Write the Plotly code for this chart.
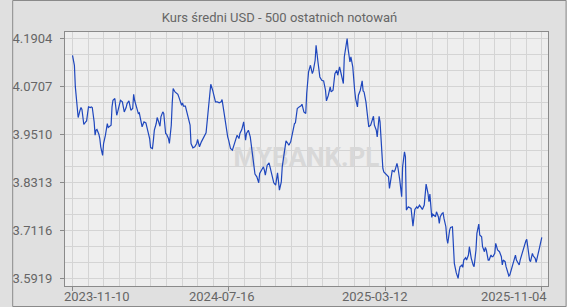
import plotly.graph_objects as go

# observation number (0 = 2023-11-10, 499 = 2025-11-04)
obs = [0,2,3,5,6,8,9,10,11,12,14,15,16,17,19,20,21,23,24,25,26,28,29,30,32,33,35,36,37,38,
       39,41,42,43,45,46,47,48,50,51,53,54,55,57,58,60,61,62,64,65,66,68,69,70,71,73,74,75,76,78,
       79,80,82,83,85,86,87,89,90,91,93,94,96,97,98,99,100,102,103,105,106,107,109,110,112,113,114,116,117,118,
       120,121,123,
       125,126,128,130,132,133,135,137,139,140,142,144,146,147,149,151,152,154,156,158,
       159,161,163,165,166,168,170,172,173,175,177,178,180,182,183,184,185,187,189,191,
       192,194,196,198,199,201,203,204,205,207,209,210,212,214,216,217,218,220,222,223,
       225,227,229,230,232,234,236,237,239,241,243,244,246,248,
       249,251,253,255,256,258,259,261,262,263,265,267,269,270,272,274,275,277,279,281,
       282,284,286,288,289,291,292,293,295,296,298,300,301,303,304,306,308,309,310,312,
       314,315,317,319,320,321,323,324,326,327,328,330,331,333,334,336,337,339,340,342,
       343,345,346,348,350,351,353,354,355,357,359,360,362,363,364,366,367,369,371,372,
       374,376,378,379,380,382,383,384,386,387,389,390,391,393,394,395,397,398,399,401,
       402,404,405,406,408,410,411,412,414,415,416,418,419,421,422,423,424,426,427,429,
       430,432,433,435,436,438,439,440,442,443,445,446,447,449,450,452,453,454,456,457,
       458,460,461,463,464,465,467,468,469,471,472,474,475,476,478,479,481,482,483,485,
       486,487,489,490,492,493,494,496,499]

usd = [4.1488,4.1238,4.0698,4.0199,3.9933,4.0116,4.0183,4.0133,3.9933,3.9759,
       3.9825,3.9850,4.0033,4.0199,4.0183,4.0199,4.0183,3.9825,3.9493,3.9617,
       3.9634,3.9518,3.9409,3.9202,3.8986,3.9285,3.9493,3.9659,3.9784,3.9684,
       3.9700,3.9742,4.0199,4.0365,4.0407,4.0158,3.9991,4.0074,4.0241,4.0365,
       4.0324,4.0199,4.0074,4.0183,4.0282,4.0349,4.0199,4.0116,4.0158,4.0515,
       4.0365,4.0183,4.0091,4.0033,4.0050,3.9825,3.9700,3.9767,3.9825,3.9800,
       3.9700,3.9601,3.9409,3.9185,3.9160,3.9368,3.9617,3.9784,3.9933,3.9867,
       3.9717,3.9950,4.0074,4.0033,3.9784,3.9534,3.9518,3.9409,3.9285,3.9742,
       4.0282,4.0656,4.0573,4.0548,4.0515,4.0449,4.0365,4.0241,4.0299,4.0216,
       4.0216,4.0116,3.9908,
       3.9742,3.9285,3.9177,3.9202,3.9285,3.9385,3.9202,3.9326,3.9409,3.9468,
       3.9551,4.0033,4.0448,4.0764,4.0615,4.0407,4.0324,4.0324,4.0299,4.0324,
       4.0382,4.0074,3.9700,3.9451,3.9368,3.9160,3.9119,3.9268,3.9285,3.9493,
       3.9409,3.9534,3.9634,3.9825,3.9617,3.9368,3.9534,3.9617,3.9451,3.9119,
       3.8828,3.8520,3.8454,3.8304,3.8537,3.8620,3.8703,3.8620,3.8495,3.8744,
       3.8803,3.8703,3.8454,3.8304,3.8246,3.8454,3.8553,3.8121,3.8329,3.8703,
       3.9035,3.9351,3.9285,3.9243,3.9326,3.9534,3.9784,3.9800,4.0158,4.0199,
       4.0224,4.0266,4.0074,4.0033,
       4.0532,4.1072,4.1238,4.1030,4.1097,4.1363,4.1737,4.1321,4.1030,4.0947,
       4.0864,4.0848,4.0615,4.0349,4.0490,4.0698,4.0573,4.0615,4.1030,4.1113,
       4.0989,4.1197,4.0989,4.0781,4.1446,4.1737,4.1904,4.1654,4.1321,4.1446,
       4.1197,4.0615,4.0407,4.0199,4.0490,4.0615,4.0848,4.0598,4.0573,4.0324,
       3.9991,3.9700,3.9742,3.9908,3.9966,3.9742,3.9617,3.9451,3.9966,3.9825,
       3.9368,3.8661,3.8578,3.8520,3.8512,3.8454,3.8163,3.8578,3.8620,3.8578,
       3.8620,3.8786,3.8686,3.8370,3.7955,3.8703,3.9077,3.8952,3.7622,3.7705,
       3.7689,3.7664,3.7223,3.7456,3.7639,3.7705,3.7664,3.7747,3.7664,3.7639,
       3.7747,3.8271,3.8038,3.7830,3.8021,3.7439,3.7522,3.7498,3.7456,3.7581,
       3.7456,3.7290,3.7456,3.7539,3.7556,3.7414,3.7207,3.6916,3.6791,3.7124,
       3.7190,3.7207,3.6791,3.6292,3.6060,3.5919,3.6084,3.6209,3.6251,3.6192,
       3.6375,3.6433,3.6375,3.6500,3.6708,3.6558,3.6417,3.6251,3.6209,3.6625,
       3.7040,3.7273,3.6999,3.6957,3.6708,3.6583,3.6691,3.6625,3.6375,3.6375,
       3.6500,3.6458,3.6458,3.6541,3.6791,3.6625,3.6608,3.6583,3.6458,3.6251,
       3.6375,3.6334,3.6209,3.6043,3.5976,3.6001,3.6168,3.6251,3.6267,3.6500,
       3.6375,3.6292,3.6251,3.6375,3.6541,3.6641,3.6749,3.6849,3.6891,3.6458,
       3.6375,3.6334,3.6541,3.6475,3.6417,3.6317,3.6442,3.6625,3.6941]

x_tick_pos = [0, 499/3, 998/3, 499]
x_tick_labels = ["2023-11-10", "2024-07-16", "2025-03-12", "2025-11-04"]
y_tick_vals = [3.5919, 3.7116, 3.8313, 3.9510, 4.0707, 4.1904]
y_tick_labels = ["3.5919", "3.7116", "3.8313", "3.9510", "4.0707", "4.1904"]

title = "Kurs średni USD - 500 ostatnich notowań"
watermark = "MYBANK.PL"

# label placement offsets (pixels) relative to the tick marks, as in the original
x_label_shift = [24, -7, -10, -28]

W, H = 567, 307
ML, MR, MT, MB = 54, 19, 32, 21
FONT = "Roboto, Arial, sans-serif"
TXT = "#666666"
GRID = "#d4d4d4"
AX = "#8a8a8a"

x_range = [-8.0, 505.6]
y_range = [3.5727, 4.2069]

fig = go.Figure()
fig.add_trace(go.Scatter(
    x=[(x_range[0] + x_range[1]) / 2], y=[(y_range[0] + y_range[1]) / 2],
    mode="text", text=["<b>" + watermark + "</b>"],
    textfont=dict(family=FONT, size=26, color="#d8d8d8"),
    hoverinfo="skip", showlegend=False))
fig.add_trace(go.Scatter(
    x=obs, y=usd, mode="lines",
    line=dict(color="#1f47bd", width=1.2),
    showlegend=False))

for pos, lab, sh in zip(x_tick_pos, x_tick_labels, x_label_shift):
    fig.add_annotation(x=pos, y=0, xref="x", yref="paper", text=lab, showarrow=False,
                       xanchor="center", yanchor="middle", xshift=sh, yshift=-10,
                       font=dict(family=FONT, size=13, color=TXT))

pw = W - ML - MR
ph = H - MT - MB
fig.add_shape(type="rect", xref="paper", yref="paper",
              x0=-(ML - 0.5) / pw, x1=1 + (MR - 0.5) / pw,
              y0=-(MB - 0.5) / ph, y1=1 + (MT - 0.5) / ph,
              line=dict(color=AX, width=1), layer="above")

fig.update_layout(
    width=W, height=H,
    margin=dict(l=ML, r=MR, t=MT, b=MB, pad=0),
    paper_bgcolor="#e0e0e0",
    plot_bgcolor="#eeeeee",
    font=dict(family=FONT, size=13, color=TXT),
    title=dict(text=title, x=0.493, xref="container", xanchor="center",
               y=1 - 17.5 / H, yref="container", yanchor="middle",
               font=dict(family=FONT, size=13, color=TXT)),
    showlegend=False,
    xaxis=dict(range=x_range, tickmode="array", tickvals=x_tick_pos,
               ticktext=["" for _ in x_tick_labels],
               showgrid=True, gridcolor=GRID, gridwidth=1,
               minor=dict(tickmode="linear", tick0=0, dtick=499 / 30, showgrid=True,
                          gridcolor=GRID, gridwidth=1, ticklen=0),
               ticks="outside", ticklen=4, tickcolor=AX,
               showline=True, linecolor=AX, linewidth=1, mirror=True,
               zeroline=False, fixedrange=True),
    yaxis=dict(range=y_range, tickmode="array", tickvals=y_tick_vals, ticktext=y_tick_labels,
               showgrid=True, gridcolor=GRID, gridwidth=1,
               minor=dict(tickmode="linear", tick0=3.5919, dtick=0.0399, showgrid=True,
                          gridcolor=GRID, gridwidth=1, ticklen=0),
               ticks="outside", ticklen=4, tickcolor=AX,
               showline=True, linecolor=AX, linewidth=1, mirror=True,
               zeroline=False, fixedrange=True, ticklabelstandoff=5,
               tickfont=dict(family=FONT, size=13, color=TXT)),
)

fig.write_html("out.html", config={"displayModeBar": False})
